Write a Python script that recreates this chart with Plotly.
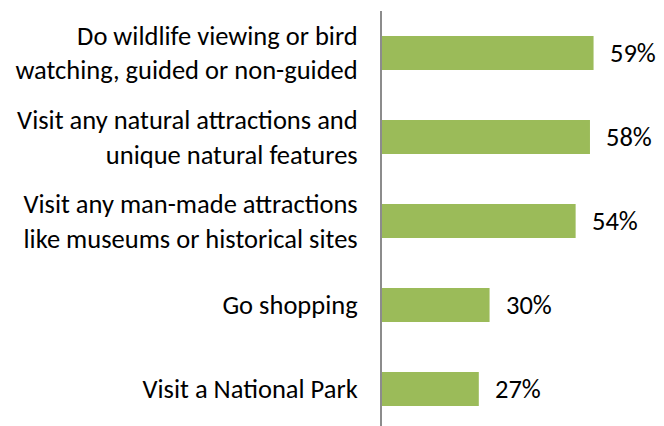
import plotly.graph_objects as go

# --- data ---
activities = [
    "Do wildlife viewing or bird<br>watching, guided or non-guided",
    "Visit any natural attractions and<br>unique natural features",
    "Visit any man-made attractions<br>like museums or historical sites",
    "Go shopping",
    "Visit a National Park",
]
shares = [59, 58, 54, 30, 27]
share_labels = [f"{v}%" for v in shares]

FONT = "Calibri, Carlito, Lato, sans-serif"

fig = go.Figure()
fig.add_trace(go.Bar(
    x=shares, y=activities, orientation="h",
    marker=dict(color="#9BBB59", line=dict(width=0)),
    hoverinfo="skip",
))

# value labels just right of each bar
for act, v, lab in zip(activities, shares, share_labels):
    fig.add_annotation(x=v, y=act, text=lab, showarrow=False,
                       xanchor="left", xshift=14,
                       font=dict(family=FONT, size=26.5, color="#000"))

fig.update_xaxes(range=[0, 70], visible=False)
fig.update_yaxes(
    range=[4.44, -0.5], showline=True, linecolor="#8c8c8c", linewidth=2,
    ticks="", ticklabelstandoff=17,
    tickfont=dict(family=FONT, size=26.5, color="#000"),
)
# page body adds an 8px offset, so the figure is sized to fill the rest
fig.update_layout(
    width=656, height=418,
    margin=dict(l=374, r=31, t=3, b=0, autoexpand=False),
    bargap=0.595, showlegend=False,
    plot_bgcolor="white", paper_bgcolor="white",
)
fig.write_html("out.html")
